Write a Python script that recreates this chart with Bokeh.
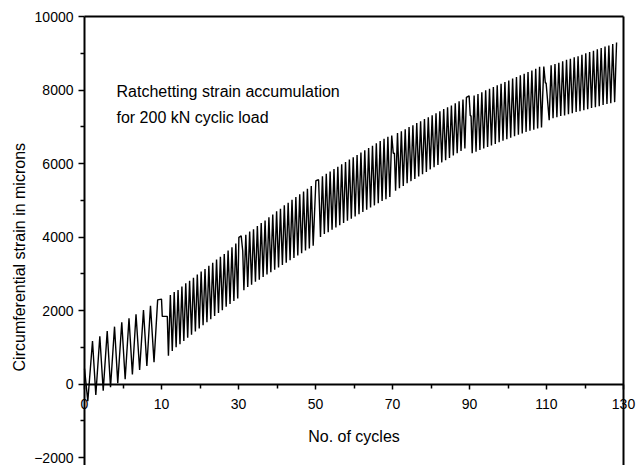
import numpy as np
from bokeh.plotting import figure
from bokeh.models import LinearAxis, FixedTicker, Label, Range1d, ColumnDataSource
from bokeh.embed import file_html
from bokeh.resources import INLINE

# ---------------- data ----------------
# non-uniform cycle axis: first division = 10 cycles, then 20 cycles per division
x_tick_cycles = [0, 10, 30, 50, 70, 90, 110, 130]
x_tick_labels = ["0", "10", "30", "50", "70", "90", "110", "130"]
x_minor_cycles = [5, 20, 40, 60, 80, 100, 120]
y_major_ticks = [-2000, 0, 2000, 4000, 6000, 8000, 10000]
y_minor_ticks = [-1000, 1000, 3000, 5000, 7000, 9000]

# first ten cycles (turning points) and hold at cycle 10
warmup_cycles = [0.0, 0.43, 1.04, 1.47, 1.99, 2.43, 2.95, 3.38, 3.90, 4.32, 4.84, 5.28,
                 5.78, 6.22, 6.69, 7.16, 7.66, 8.10, 8.57, 9.03, 9.5, 10.0, 10.2, 11.5]
warmup_strain = [420, -470, 1170, -300, 1300, -180, 1440, -90, 1560, 20, 1680, 130,
                 1790, 260, 1900, 380, 2010, 490, 2130, 590, 2290, 2310, 1840, 1840]

# cycle of the first peak in each 20-cycle block
block_first_peak = [12.3, 31.9, 51.8, 71.3, 91.2, 111.2]

peaks_10_30 = [2420, 2500, 2560, 2650, 2740, 2810, 2890, 2980, 3060, 3130, 3220, 3300,
               3390, 3460, 3540, 3630, 3720, 3820]
troughs_10_30 = [770, 900, 1000, 1080, 1170, 1260, 1340, 1430, 1510, 1600, 1680, 1760,
                 1850, 1930, 2010, 2100, 2180, 2260, 2330]
peaks_30_50 = [4060, 4150, 4210, 4300, 4380, 4450, 4540, 4610, 4700, 4770, 4860, 4930,
               5010, 5090, 5160, 5240, 5310, 5390]
troughs_30_50 = [2550, 2640, 2700, 2780, 2840, 2910, 2980, 3040, 3110, 3170, 3240, 3300,
                 3370, 3430, 3500, 3560, 3630, 3690, 3760]
peaks_50_70 = [5650, 5720, 5780, 5850, 5910, 5980, 6040, 6110, 6170, 6230, 6300, 6360,
               6420, 6480, 6550, 6610, 6670, 6730]
troughs_50_70 = [4000, 4080, 4130, 4200, 4260, 4320, 4380, 4440, 4500, 4560, 4620, 4680,
                 4740, 4800, 4860, 4920, 4980, 5030, 5090]
peaks_70_90 = [6830, 6880, 6930, 6990, 7040, 7100, 7150, 7210, 7260, 7310, 7370, 7420,
               7480, 7530, 7580, 7640, 7690, 7740]
troughs_70_90 = [5260, 5330, 5390, 5460, 5520, 5580, 5650, 5710, 5770, 5840, 5900, 5960,
                 6030, 6090, 6150, 6220, 6280, 6340, 6410]
peaks_90_110 = [7850, 7890, 7940, 7990, 8030, 8080, 8130, 8170, 8220, 8260, 8310, 8350,
                8400, 8440, 8490, 8530, 8580, 8630]
troughs_90_110 = [6280, 6320, 6370, 6410, 6450, 6490, 6530, 6580, 6620, 6660, 6700, 6740,
                  6780, 6820, 6860, 6890, 6920, 6950, 6980]
peaks_110_130 = [8670, 8710, 8740, 8780, 8820, 8850, 8890, 8920, 8960, 9000, 9030, 9070,
                 9110, 9140, 9180, 9210, 9250, 9290]
troughs_110_130 = [7180, 7230, 7260, 7290, 7310, 7340, 7370, 7400, 7420, 7450, 7480, 7510,
                   7530, 7560, 7590, 7620, 7640, 7670]

# holds / notches at the end of each block
event_cycles = [[30.1, 30.7, 31.1], [50.1, 50.8], [69.8, 70.2, 70.5],
                [89.2, 89.9, 90.2, 90.4], [109.3, 109.7, 109.9]]
event_strain = [[3990, 4030, 3620], [5530, 5560], [6760, 6280, 6280],
                [7800, 7840, 7300, 7300], [8640, 8190, 8190]]

# ---------------- assemble series ----------------
peaks = [peaks_10_30, peaks_30_50, peaks_50_70, peaks_70_90, peaks_90_110, peaks_110_130]
troughs = [troughs_10_30, troughs_30_50, troughs_50_70, troughs_70_90, troughs_90_110, troughs_110_130]

cyc = list(warmup_cycles)
val = list(warmup_strain)
for k in range(6):
    fp = block_first_peak[k]
    pk, tr = peaks[k], troughs[k]
    for i in range(len(pk)):
        cyc += [fp + i - 0.5, fp + i]
        val += [tr[i], pk[i]]
    if len(tr) > len(pk):
        cyc.append(fp + len(pk) - 0.5)
        val.append(tr[-1])
    if k < len(event_cycles):
        cyc += event_cycles[k]
        val += event_strain[k]

div_index = np.arange(len(x_tick_cycles))
def to_axis(c):
    return np.interp(c, x_tick_cycles, div_index)

src = ColumnDataSource(dict(x=to_axis(np.array(cyc)), y=np.array(val)))

# ---------------- layout geometry ----------------
W, H = 636, 465
X0_PX, X1_PX = 84, 623          # pixel columns of the 0 and 130 divisions
Y_TOP_PX, Y_BOT_PX = 16, 457    # pixel rows of 10000 and -2000
n_div = len(x_tick_cycles) - 1
ppu = (X1_PX - X0_PX) / n_div
ppy = (Y_BOT_PX - Y_TOP_PX) / (y_major_ticks[-1] - y_major_ticks[0])
x_range = Range1d(-X0_PX / ppu, n_div + (W - X1_PX) / ppu)
y_range = Range1d(y_major_ticks[0] - (H - Y_BOT_PX) / ppy, y_major_ticks[-1] + Y_TOP_PX / ppy)

FONT = "Liberation Sans"
p = figure(width=W, height=H, output_backend="svg", toolbar_location=None,
           x_range=x_range, y_range=y_range,
           x_axis_location=None, y_axis_location=None, min_border=0)
p.outline_line_color = None
p.grid.visible = False
p.background_fill_color = "white"
p.border_fill_color = "white"

p.line("x", "y", source=src, line_color="black", line_width=1.4)


def style_axis(ax):
    ax.axis_line_width = 2
    ax.major_tick_in = 0
    ax.minor_tick_in = 0
    ax.major_tick_line_width = 1.5
    ax.minor_tick_line_width = 1.5
    ax.major_label_text_font = FONT
    ax.major_label_text_font_size = "14px"
    ax.major_label_text_color = "black"


# y axis at x = 0
ya = LinearAxis(fixed_location=0, bounds=(y_range.start, y_major_ticks[-1]))
ya.ticker = FixedTicker(ticks=y_major_ticks, minor_ticks=y_minor_ticks)
style_axis(ya)
ya.major_tick_out = 6
ya.minor_tick_out = 4
ya.major_label_standoff = 5
p.add_layout(ya, "left")

# x axis crossing at y = 0
xt = to_axis(np.array(x_tick_cycles))
xa = LinearAxis(fixed_location=0, bounds=(0, n_div))
xa.ticker = FixedTicker(ticks=list(xt), minor_ticks=list(to_axis(np.array(x_minor_cycles))))
xa.major_label_overrides = {float(t): lab for t, lab in zip(xt, x_tick_labels)}
style_axis(xa)
xa.major_tick_out = 5
xa.minor_tick_out = 4
xa.major_label_standoff = 10
xa.axis_label = "No. of cycles"
xa.axis_label_text_font = FONT
xa.axis_label_text_font_size = "16px"
xa.axis_label_text_font_style = "normal"
xa.axis_label_text_color = "black"
xa.axis_label_standoff = 15
p.add_layout(xa, "below")

# frame top and right lines
ta = LinearAxis(fixed_location=y_major_ticks[-1], bounds=(0, n_div),
                ticker=FixedTicker(ticks=[], minor_ticks=[]))
style_axis(ta)
ta.major_tick_line_color = None
ta.minor_tick_line_color = None
p.add_layout(ta, "above")
ra = LinearAxis(fixed_location=n_div, bounds=(y_range.start, y_major_ticks[-1]),
                ticker=FixedTicker(ticks=[], minor_ticks=[]))
style_axis(ra)
ra.major_tick_line_color = None
ra.minor_tick_line_color = None
p.add_layout(ra, "right")

# y axis title
p.add_layout(Label(x=18.5, y=H - 256.7, x_units="screen", y_units="screen",
                   text="Circumferential strain in microns", angle=np.pi / 2,
                   text_align="center", text_baseline="middle",
                   text_font=FONT, text_font_size="16px", text_color="black"))

# annotation
p.add_layout(Label(x=116, y=H - 90.7, x_units="screen", y_units="screen",
                   text="Ratchetting strain accumulation", text_align="left",
                   text_baseline="alphabetic", text_font=FONT, text_font_size="16px",
                   text_color="black"))
p.add_layout(Label(x=116, y=H - 116.7, x_units="screen", y_units="screen",
                   text="for 200 kN cyclic load", text_align="left",
                   text_baseline="alphabetic", text_font=FONT, text_font_size="16px",
                   text_color="black"))

open("out.html", "w").write(file_html(p, INLINE))
